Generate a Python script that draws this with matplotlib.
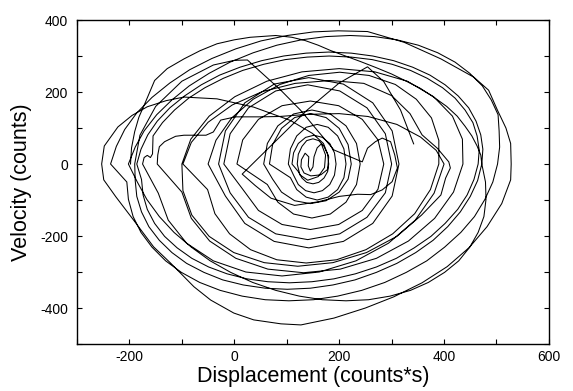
import matplotlib
matplotlib.use("Agg")
import matplotlib.pyplot as plt
from matplotlib.ticker import MultipleLocator

plt.rcParams['font.family'] = ['Liberation Sans', 'DejaVu Sans']
plt.rcParams['axes.unicode_minus'] = False

# trajectory: (displacement, velocity) vertices, in order
big_loops = [
    # loop with left edge near -198
    (-198, 0), (-196, 45), (-190, 90), (-182, 130), (-170, 170), (-152, 232), (-128, 265), (-96, 292),
    (-65, 315), (-33, 334), (0, 345), (30, 352), (79, 357), (110, 352), (135, 343), (160, 330), (184, 315),
    (212, 300), (240, 285), (270, 268), (300, 250), (328, 230), (355, 210), (380, 186), (405, 160),
    (425, 133), (440, 105), (453, 78), (463, 50), (470, 25), (472, 0),
    (479, -50), (480, -98), (476, -146), (465, -190), (449, -231), (428, -269), (401, -301), (370, -329),
    (336, -351), (297, -367), (256, -377), (213, -380), (168, -377), (124, -367), (79, -351), (35, -329),
    (-7, -301), (-46, -269), (-82, -231), (-115, -190), (-143, -146), (-167, -98), (-185, -50),
    # loop with left edge near -202
    (-202, 0), (-189, 47), (-172, 92), (-148, 137), (-119, 178), (-86, 217), (-48, 252), (-8, 283),
    (36, 309), (81, 330), (128, 345), (175, 354), (221, 357), (267, 354), (310, 345), (351, 330),
    (388, 309), (421, 283), (449, 252), (473, 217), (490, 178), (503, 137), (505, 92), (506, 47), (502, 0),
    (493, -50), (478, -98), (458, -146), (432, -190), (401, -231), (367, -269), (328, -301), (287, -329),
    (243, -351), (197, -367), (151, -377), (104, -380), (59, -377), (15, -367), (-27, -351), (-66, -329),
    (-101, -301), (-131, -269), (-157, -231), (-178, -190), (-193, -146), (-202, -98), (-205, -50),
    # largest loop
    (-236, 0), (-225, 49), (-209, 96), (-186, 142), (-157, 185), (-123, 225), (-85, 262), (-43, 293),
    (3, 320), (51, 342), (101, 357), (151, 367), (198, 370), (254, 368), (324, 338), (394, 292),
    (457, 241), (485, 205), (502, 149), (518, 100), (527, 57), (528, 0),
    (527, -44), (510, -110), (482, -174), (448, -232), (406, -285), (358, -330), (304, -369), (250, -400),
    (190, -428), (127, -447), (89, -444), (37, -433), (-1, -414), (-45, -378), (-77, -341), (-121, -276),
    (-154, -230), (-192, -156), (-226, -91), (-249, -44), (-253, 0),
]

decay_to_core = [
    (-248, 50), (-222, 103), (-195, 135), (-166, 159), (-130, 176), (-96, 186), (-33, 181), (37, 158),
    (107, 121), (149, 85), (170, 57), (180, 20),
    # small squiggle in the centre
    (178, -15), (165, -30), (146, -33), (133, -25), (127, -8), (128, 12), (135, 30), (142, 20),
    (141, -5), (145, -20), (150, -8), (152, 20), (158, 45), (166, 56), (174, 25), (172, -10),
    (160, -35), (140, -45), (125, -30),
]

inner_loops = [
    (120, 0), (122, 27), (129, 49), (138, 65), (150, 70), (161, 65), (171, 49), (178, 27), (180, 0),
    (178, -21), (171, -39), (161, -51), (150, -55), (138, -51), (129, -39), (122, -21),
    (110, 0), (113, 31), (122, 57), (136, 74), (152, 80), (168, 74), (182, 57), (191, 31), (194, 0),
    (191, -31), (182, -57), (168, -74), (152, -80), (136, -74), (122, -57), (113, -31),
    (103, 0), (107, 42), (119, 78), (137, 102), (158, 110), (179, 102), (197, 78), (209, 42), (213, 0),
    (209, -38), (197, -71), (179, -92), (158, -100), (137, -92), (119, -71), (107, -38),
    (67, 0), (73, 54), (90, 99), (115, 129), (145, 140), (175, 129), (200, 99), (217, 54), (223, 0),
    (217, -42), (200, -78), (175, -102), (145, -110), (115, -102), (90, -78), (73, -42),
    (56, 0), (63, 57), (83, 106), (113, 139), (148, 150), (183, 139), (213, 106), (233, 57), (240, 0),
    (233, -57), (213, -106), (183, -139), (148, -150), (113, -139), (83, -106), (63, -57),
]

middle_loops = [
    (5, 0), (16, 67), (46, 124), (91, 162), (145, 175), (199, 162), (244, 124), (274, 67), (285, 0),
    (274, -70), (244, -129), (199, -168), (145, -182), (91, -168), (46, -129), (16, -70),
    (-20, 0), (-8, 84), (27, 156), (79, 203), (140, 220), (201, 203), (253, 156), (288, 84), (300, 0),
    (288, -80), (253, -148), (201, -194), (140, -210), (79, -194), (27, -148), (-8, -80),
    (-30, 0), (-17, 92), (20, 170), (76, 222), (142, 240), (208, 222), (264, 170), (301, 92), (314, 0),
    (301, -89), (264, -165), (208, -215), (142, -233), (76, -215), (20, -165), (-17, -89),
    (-50, 0), (-35, 66), (-5, 128), (36, 180), (87, 221), (142, 246), (201, 255), (257, 246), (307, 221),
    (347, 180), (376, 128), (390, 66), (390, 0), (374, -71), (344, -138), (302, -194), (251, -238),
    (195, -266), (137, -275), (81, -266), (31, -238), (-9, -194), (-37, -138), (-51, -71),
    # loop with the wavy right side
    (-98, 0), (-82, 60), (-50, 116), (-4, 164), (53, 201), (116, 224), (183, 232), (247, 224),
    (300, 190), (335, 140), (358, 81), (387, 44), (409, 6), (412, -11), (403, -39), (394, -86),
    (357, -142), (310, -201), (252, -246), (188, -274), (121, -284), (57, -274), (-1, -246),
    (-48, -201), (-81, -142), (-98, -74),
]

late_loops = [
    (-100, 0), (-83, 69), (-48, 133), (1, 187), (62, 230), (129, 256), (200, 265), (268, 256),
    (330, 230), (380, 187), (416, 133), (435, 69), (436, 0), (418, -78), (382, -151), (332, -214),
    (271, -262), (202, -292), (132, -302), (64, -292), (3, -262), (-47, -214), (-82, -151), (-100, -78),
    # loop with the stepped top
    (-147, 0), (-146, 25), (-143, 48), (-133, 62), (-112, 77), (-96, 80), (-54, 80), (-40, 89),
    (-26, 122), (2, 131), (50, 131), (86, 132), (140, 138), (200, 140), (255, 132), (310, 110),
    (355, 75), (385, 38), (400, 0), (381, -81), (345, -156), (294, -220), (232, -269), (162, -300),
    (91, -311), (22, -300), (-40, -269), (-91, -220), (-126, -156), (-145, -81),
    # loop with the small kink on its left side
    (-175, 0), (-172, 18), (-166, 24), (-160, 18), (-156, 28), (-155, 78), (-137, 115), (-114, 150),
    (-87, 183), (-56, 212), (-21, 238), (16, 260), (56, 277), (97, 290), (139, 297), (181, 300),
    (223, 297), (263, 290), (301, 277), (336, 260), (368, 238), (397, 212), (421, 183), (440, 150),
    (455, 115), (463, 78), (467, 39), (465, 0), (457, -43), (444, -86), (426, -126), (402, -165),
    (375, -201), (343, -233), (309, -262), (271, -286), (231, -305), (190, -319), (148, -327),
    (105, -330), (64, -327), (24, -319), (-14, -305), (-49, -286), (-81, -262), (-109, -233),
    (-133, -201), (-152, -165), (-166, -126), (-174, -86), (-177, -43),
    (-186, 0), (-178, 41), (-165, 81), (-147, 119), (-123, 156), (-95, 189), (-63, 220), (-28, 247),
    (11, 269), (52, 287), (94, 300), (137, 308), (180, 311), (223, 308), (264, 300), (304, 287),
    (340, 269), (373, 247), (402, 220), (427, 189), (447, 156), (461, 119), (470, 81), (474, 41),
    (472, 0), (464, -46), (450, -90), (431, -133), (407, -174), (379, -212), (346, -246), (310, -276),
    (271, -301), (230, -322), (188, -336), (145, -345), (101, -348), (59, -345), (17, -336), (-22, -322),
    (-58, -301), (-91, -276), (-119, -246), (-143, -212), (-163, -174), (-177, -133), (-186, -90),
    (-189, -46),
]

tail = [
    (-190, 0), (-180, 80), (-150, 160), (-100, 230), (-40, 275), (0, 288), (25, 289), (50, 256),
    (88, 206), (126, 150), (158, 94), (190, 39),
    # small loop right of the centre
    (244, 6), (254, 44), (269, 62), (282, 72), (298, 62), (306, 25), (311, -11), (301, -49),
    (282, -72), (260, -85), (235, -84), (200, -90), (160, -105), (115, -115),
    (70, -95), (40, -60), (15, -28), (139, 150), (200, 225), (254, 270), (285, 229), (317, 150), (342, 56),
]

path = big_loops + decay_to_core + inner_loops + middle_loops + late_loops + tail
disp = [p[0] for p in path]
vel = [p[1] for p in path]

fig = plt.figure(figsize=(5.73, 3.91), dpi=100)
ax = fig.add_axes([0.1344, 0.1202, 0.8236, 0.8286])

ax.plot(disp, vel, color='black', lw=0.75)

ax.set_xlim(-300, 600)
ax.set_ylim(-500, 400)
ax.xaxis.set_major_locator(MultipleLocator(200))
ax.xaxis.set_minor_locator(MultipleLocator(100))
ax.yaxis.set_major_locator(MultipleLocator(200))
ax.yaxis.set_minor_locator(MultipleLocator(100))
ax.tick_params(which='both', direction='in', top=True, right=True, length=3.5, width=0.8)
ax.tick_params(axis='x', labelsize=10, pad=4.5)
ax.tick_params(axis='y', labelsize=10, pad=6.5)
for s in ax.spines.values():
    s.set_linewidth(1.0)

ax.set_xlabel("Displacement (counts*s)", fontsize=15.5, labelpad=1)
ax.set_ylabel("Velocity (counts)", fontsize=15.5, labelpad=6)

fig.savefig("out.png", dpi=100)
